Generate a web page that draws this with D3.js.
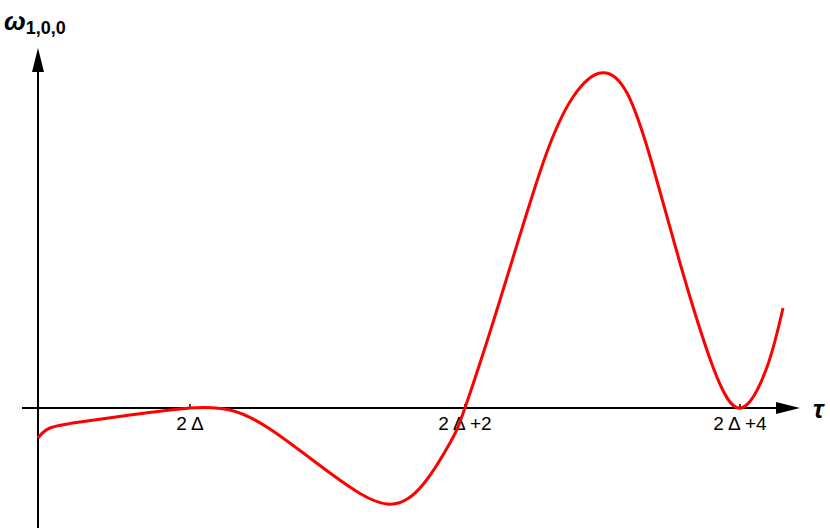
<!DOCTYPE html>
<html>
<head>
<meta charset="utf-8">
<script src="https://cdn.jsdelivr.net/npm/d3@7"></script>
<style>
  body { margin: 0; background: #fff; }
  text { font-family: "Liberation Sans", Arial, sans-serif; }
</style>
</head>
<body>
<script>
// Curve samples (tau, omega)
const tau = [0, 0.087, 0.305, 0.669, 1.105, 1.396, 1.687, 2.124, 2.538, 2.815, 2.996,
  3.105, 3.360, 3.673, 3.891, 4.087, 4.284, 4.473, 4.669, 4.909, 5.113, 5.302, 5.418];
const omega = [-0.30, -0.20, -0.14, -0.07, 0, -0.02, -0.21, -0.65, -0.96, -0.74, -0.35,
  0, 1.08, 2.45, 3.11, 3.35, 3.15, 2.41, 1.45, 0.41, 0, 0.41, 1.00];

const tickValues = [1.105, 3.105, 5.105];
const tickLabels = ["2 Δ", "2 Δ +2", "2 Δ +4"];

const width = 830, height = 531;

const x = d3.scaleLinear().domain([0, 5.6]).range([38, 38 + 5.6 * 137.5]);
const y = d3.scaleLinear().domain([-1.2, 3.6]).range([528, 48]);

const svg = d3.select("body")
  .append("svg")
  .attr("width", width)
  .attr("height", height);

// x axis line + arrow
svg.append("line")
  .attr("x1", 22).attr("x2", 780)
  .attr("y1", y(0)).attr("y2", y(0))
  .attr("stroke", "#000").attr("stroke-width", 2);
svg.append("path")
  .attr("d", `M${800},${y(0)} L${776},${y(0) - 6} L${776},${y(0) + 6} Z`)
  .attr("fill", "#000");

// y axis line + arrow
svg.append("line")
  .attr("x1", x(0)).attr("x2", x(0))
  .attr("y1", 528).attr("y2", 70)
  .attr("stroke", "#000").attr("stroke-width", 2);
svg.append("path")
  .attr("d", `M${x(0)},${48} L${x(0) - 6},${72} L${x(0) + 6},${72} Z`)
  .attr("fill", "#000");

// ticks
const ticks = svg.append("g");
ticks.selectAll("line")
  .data(tickValues)
  .enter().append("line")
  .attr("x1", d => x(d)).attr("x2", d => x(d))
  .attr("y1", y(0) - 4).attr("y2", y(0))
  .attr("stroke", "#000").attr("stroke-width", 1.5);
ticks.selectAll("text")
  .data(tickValues)
  .enter().append("text")
  .attr("x", d => x(d))
  .attr("y", y(0) + 22)
  .attr("text-anchor", "middle")
  .attr("font-size", 19)
  .text((d, i) => tickLabels[i]);

// the curve
const points = tau.map((t, i) => ({ t, w: omega[i] }));
const line = d3.line()
  .x(d => x(d.t))
  .y(d => y(d.w))
  .curve(d3.curveNatural);

svg.append("path")
  .datum(points)
  .attr("d", line)
  .attr("fill", "none")
  .attr("stroke", "#ff0000")
  .attr("stroke-width", 3);

// axis titles
const yt = svg.append("text")
  .attr("x", 4).attr("y", 30)
  .attr("font-weight", "bold");
yt.append("tspan").attr("font-size", 26).attr("font-style", "italic").text("ω");
yt.append("tspan").attr("font-size", 18).attr("dy", 4).text("1,0,0");

svg.append("text")
  .attr("x", 813).attr("y", 418)
  .attr("font-size", 26)
  .attr("font-weight", "bold")
  .attr("font-style", "italic")
  .text("τ");
</script>
</body>
</html>
